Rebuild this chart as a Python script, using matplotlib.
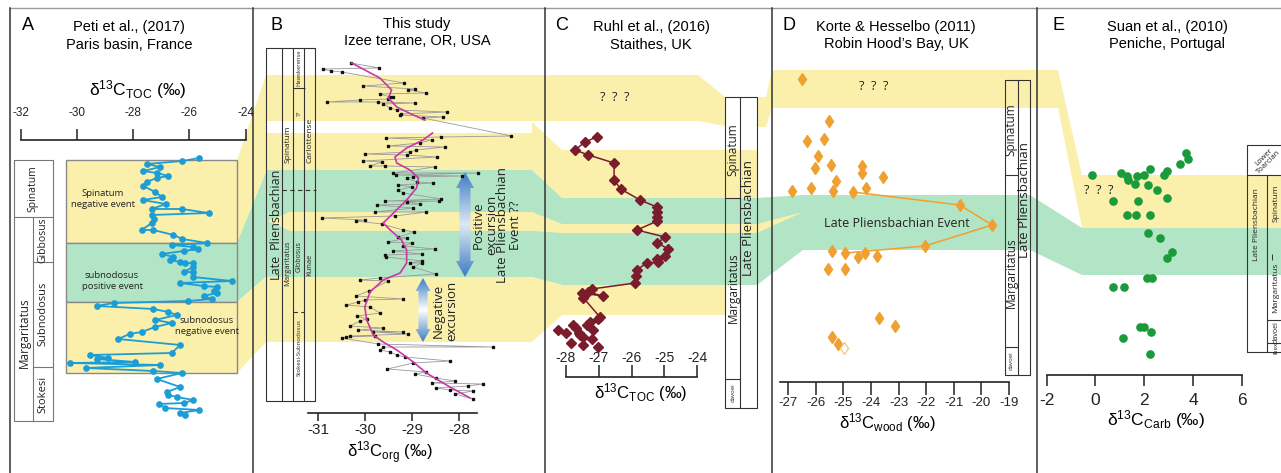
import numpy as np
import matplotlib.pyplot as plt
from matplotlib.patches import Polygon
from matplotlib.colors import LinearSegmentedColormap

plt.rcParams['axes.unicode_minus'] = False
plt.rcParams['font.family'] = ['Liberation Sans', 'DejaVu Sans']

W, H = 1281, 473
YEL = '#fbf0ab'
GRN = '#b2e5c5'
TITLE = 'Liberation Sans'
TICK = ['Liberation Sans', 'DejaVu Sans']
LAB = 'Open Sans'

# ---- A: Peti et al. (2017), d13C TOC vs level
a_val = [-25.65, -26.25, -27.52, -27.04, -27.64, -27.16, -26.75, -27.16, -27.52, -27.64, -27.22, -26.98,
         -27.66, -26.84, -27.34, -26.27, -25.32, -27.34, -27.25, -27.34, -27.70, -27.28, -26.57, -26.25,
         -25.38, -26.63, -25.86, -25.68, -26.21, -26.98, -26.57, -26.69, -26.33, -26.15, -25.86, -25.86,
         -26.21, -25.86, -25.88, -24.49, -26.33, -25.50, -25.02, -25.14, -25.02, -25.50, -25.20, -26.04,
         -28.70, -29.30, -27.28, -26.75, -26.45, -27.22, -26.63, -27.22, -27.70, -28.13, -28.53, -26.33,
         -26.63, -29.53, -28.88, -29.30, -27.93, -30.25, -27.04, -29.68, -27.28, -26.27, -27.16, -26.33,
         -26.81, -26.75, -26.45, -25.86, -26.21, -27.07, -26.87, -25.65, -26.33, -26.15]
a_lvl = [158, 161, 164, 167, 171, 173, 176, 178, 182, 186, 192, 197,
         200, 204, 209, 209, 213, 215, 219, 223, 230, 230, 235, 239,
         243, 245, 247, 249, 251, 254, 257, 260, 262, 263, 263, 267,
         272, 272, 277, 281, 283, 286, 287, 291, 293, 296, 299, 301,
         303, 306, 309, 312, 315, 320, 323, 327, 332, 334, 339, 345,
         353, 355, 358, 359, 362, 363, 365, 368, 371, 373, 379, 387,
         392, 395, 397, 400, 403, 404, 408, 410, 413, 415]
a_ticks = [-32, -30, -28, -26, -24]

# ---- B: this study, d13C org
b_val = [-30.31, -29.70, -30.91, -30.72, -30.50, -29.18, -30.04, -28.94, -29.09, -28.70, -29.69, -29.47,
         -29.40, -29.51, -30.11, -30.81, -29.72, -28.94, -29.62, -29.47, -29.33, -28.27, -29.23, -29.26,
         -28.34, -28.77, -26.89, -28.38, -29.55, -28.59, -28.84, -29.51, -28.30, -28.92, -29.05, -30.01,
         -29.12, -28.48, -30.04, -29.65, -29.90, -29.58, -28.52, -29.40, -27.60, -29.35, -27.95, -28.98,
         -29.12, -28.91, -28.55, -29.30, -29.01, -29.30, -29.19, -28.38, -29.59, -28.43, -29.12, -28.84,
         -29.76, -28.98, -29.79, -28.70, -29.37, -30.93, -30.01, -30.20, -29.65, -29.19, -28.96, -29.30,
         -29.12, -29.51, -29.01, -29.19, -28.52, -29.40, -28.80, -29.58, -29.55, -28.80, -29.05, -28.80,
         -28.98, -28.50, -29.69, -30.11, -29.51, -29.93, -30.20, -29.19, -30.00, -30.15, -30.40, -29.90,
         -29.69, -30.18, -29.97, -30.11, -30.33, -29.62, -30.15, -29.19, -29.83, -29.09, -30.33, -29.79,
         -30.40, -30.50, -29.72, -27.29, -29.62, -29.69, -29.47, -29.33, -29.16, -28.20, -28.98, -29.53,
         -28.70, -28.94, -28.50, -28.09, -28.59, -27.49, -27.81, -28.50, -28.20, -27.70, -28.09, -27.70]
b_lvl = [63, 68, 69, 71, 72, 83, 86, 89, 90, 93, 94, 97,
         97, 99, 100, 102, 102, 103, 104, 108, 110, 112, 114, 115,
         117, 118, 136, 137, 138, 140, 143, 146, 147, 150, 152, 154,
         155, 157, 161, 162, 166, 166, 167, 173, 173, 175, 176, 177,
         178, 182, 183, 185, 187, 190, 193, 199, 201, 201, 202, 204,
         205, 208, 212, 212, 216, 218, 220, 221, 224, 230, 232, 237,
         238, 242, 243, 246, 249, 251, 254, 255, 257, 261, 263, 263,
         267, 274, 278, 280, 281, 291, 296, 299, 300, 302, 305, 307,
         313, 316, 319, 321, 326, 328, 330, 332, 332, 334, 336, 336,
         337, 338, 344, 347, 347, 350, 352, 355, 357, 361, 363, 369,
         372, 374, 378, 381, 383, 384, 386, 388, 390, 391, 394, 399]
b_fit_val = [-30.29, -29.69, -29.44, -29.51, -29.33, -28.98, -28.73, np.nan,
             -28.57, -28.77, -29.12, -29.37, -29.33, -29.05, -28.87, -28.91, -29.12, -29.40, -29.62,
             -29.47, -29.23, -29.12, -29.12, -29.26, -29.62, -29.90, -30.01, -29.97, -29.83, -29.62,
             -29.33, -28.98, -28.70, -28.20, -27.77]
b_fit_lvl = [63, 78, 90, 98, 107, 115, 120, np.nan,
             133, 140, 148, 157, 163, 170, 178, 188, 200, 213, 223,
             230, 240, 250, 263, 273, 280, 292, 307, 320, 335, 342,
             350, 362, 373, 387, 398]
b_ticks = [-31, -30, -29, -28]

# ---- C: Ruhl et al. (2016), d13C TOC
c_val = [-27.06, -27.41, -27.72, -27.31, -26.53, -26.53, -26.33, -25.74, -25.23, -25.21, -25.23, -25.21,
         -25.84, -24.98, -25.21, -24.88, -24.98, -25.23, -25.18, -25.54, -25.84, -25.86, -25.89, -27.21,
         -27.31, -26.88, -27.51, -27.46, -26.96, -27.01]
c_lvl = [137, 142, 150, 155, 163, 180, 189, 200, 207, 212, 217, 221,
         230, 237, 243, 249, 256, 259, 262, 263, 270, 276, 283, 289,
         292, 296, 293, 298, 317, 319]
c_sc_val = [-27.26, -27.36, -27.77, -27.69, -28.22, -27.18, -27.99, -27.61, -27.56, -27.46, -27.21,
            -27.85, -27.46, -27.01]
c_sc_lvl = [322, 325, 325, 328, 330, 330, 333, 333, 335, 337, 339, 343, 345, 347]
c_ticks = [-28, -27, -26, -25, -24]

# ---- D: Korte & Hesselbo (2011), d13C wood
d_val = [-26.52, -25.52, -26.31, -25.70, -25.94, -26.03, -25.46, -24.31, -24.31, -23.56, -25.28, -26.16,
         -26.86, -25.37, -24.19, -24.67, -20.79, -19.61, -22.05, -24.93, -25.43, -24.49, -24.23, -23.80,
         -25.55, -24.93, -23.71, -23.12, -25.43, -25.19]
d_lvl = [79, 121, 141, 139, 156, 168, 165, 166, 173, 177, 181, 188,
         191, 191, 188, 192, 205, 225, 246, 253, 251, 257, 253, 256,
         269, 269, 318, 326, 337, 344]
d_evt_val = [-24.67, -20.79, -19.61, -22.05, -24.93]
d_evt_lvl = [192, 205, 225, 246, 253]
d_open_val = [-24.99]
d_open_lvl = [348]
d_ticks = [-27, -26, -25, -24, -23, -22, -21, -20, -19]

# ---- E: Suan et al. (2010), d13C carb
e_val = [3.70, 3.81, 3.47, 2.24, 2.95, 2.82, 1.04, 1.31, 1.72, 1.99, -0.13, 1.33,
         1.63, 2.17, 2.54, 2.92, 0.71, 1.76, 1.28, 1.67, 2.24, 2.17, 2.65, 3.16,
         2.92, 2.13, 2.34, 0.71, 1.17, 1.83, 1.99, 2.27, 1.15, 2.24]
e_lvl = [153, 159, 164, 169, 171, 175, 173, 176, 176, 175, 175, 180,
         184, 185, 190, 198, 201, 201, 215, 215, 215, 233, 238, 252,
         258, 278, 278, 287, 287, 327, 327, 332, 338, 354]
e_ticks = [-2, 0, 2, 4, 6]

fig = plt.figure(figsize=(W / 100, H / 100), dpi=100)
bg = fig.add_axes([0, 0, 1, 1])
bg.set_autoscale_on(False)
bg.set_xlim(0, W)
bg.set_ylim(H, 0)
bg.axis('off')


def poly(pts, fc, ec='none', lw=0, z=1):
    bg.add_patch(Polygon(pts, closed=True, fc=fc, ec=ec, lw=lw, zorder=z))


def band(xs, top, bot, fc, z=1):
    poly(list(zip(xs, top)) + list(zip(xs[::-1], bot[::-1])), fc, z=z)


# correlation bands
band([266, 698, 725], [75, 75, 97], [121, 121, 126], YEL)
band([757, 766, 772, 1058, 1082, 1281], [97, 97, 70, 70, 175, 175],
     [127, 127, 108, 108, 228, 228], YEL)
band([266, 532, 532, 562, 757], [133, 133, 122, 150, 150], [170, 170, 170, 198, 198], YEL)
band([266, 532, 562, 757, 803, 1030, 1082, 1281], [170, 170, 198, 198, 195, 195, 228, 228],
     [277, 277, 285, 285, 250, 250, 275, 275], GRN)
band([268, 290, 532, 562, 757, 803], [221, 212, 212, 224, 224, 212],
     [221, 231, 231, 233, 233, 212], YEL, z=1.1)
band([266, 532, 562, 725], [277, 277, 285, 285], [342, 342, 315, 315], YEL)
poly([(237, 160), (266, 75), (266, 172), (237, 243)], YEL)
poly([(237, 243), (266, 172), (266, 277), (237, 302)], GRN)
poly([(237, 302), (266, 277), (266, 342), (237, 373)], YEL)
# panel A event boxes
for y0, y1, fc in [(160, 243, YEL), (243, 302, GRN), (302, 373, YEL)]:
    poly([(66, y0), (237, y0), (237, y1), (66, y1)], fc, ec='#8a8a8a', lw=1, z=1.5)

# panel frames
bg.plot([10, W], [8, 8], color='#9a9a9a', lw=1, zorder=2)
for x in [10, 253, 545, 772, 1037]:
    bg.plot([x, x], [8, H], color='#333333', lw=1.1, zorder=2)

LC = '#333333'


def seg(xs, ys, ls='-', lw=0.8, c=LC):
    bg.plot(xs, ys, color=c, lw=lw, ls=ls, zorder=3, solid_capstyle='butt')


def box(x0, y0, x1, y1, lw=0.8, c=LC):
    seg([x0, x1, x1, x0, x0], [y0, y0, y1, y1, y0], lw=lw, c=c)


def vtext(x, y, s, size, family=LAB, rot=90, **kw):
    bg.text(x, y, s, rotation=rot, ha='center', va='center', fontsize=size, family=family,
            color='#222222', zorder=4, **kw)


# column A
box(14, 160, 53, 421, c='#777777')
seg([14, 53], [217, 217], c='#777777')
seg([33, 33], [217, 421], c='#777777')
seg([33, 53], [262, 262], c='#777777')
seg([33, 53], [367, 367], c='#777777')
vtext(33, 189, 'Spinatum', 7.5)
vtext(43, 240, 'Gibbosus', 7.5)
vtext(43, 314, 'Subnodosus', 8)
vtext(43, 394, 'Stokesi', 8)
vtext(24, 333, 'Margaritatus', 8.5)
vtext(103, 199, 'Spinatum\nnegative event', 6.8, rot=0, linespacing=1.25)
vtext(112, 281, 'subnodosus\npositive event', 6.8, rot=0, linespacing=1.25)
vtext(207, 326, 'subnodosus\nnegative event', 6.8, rot=0, linespacing=1.25)

# column B
box(266, 48, 315, 401)
for x in [282, 293, 304]:
    seg([x, x], [48, 401])
seg([293, 305], [88, 88])
seg([282, 316], [190, 190], ls=(0, (4, 3)))
seg([293, 304], [312, 312], ls=(0, (4, 3)))
vtext(299, 68, 'Hawskerense', 4.2)
vtext(299, 113, '??', 4.5)
vtext(288, 144, 'Spinatum', 6)
vtext(310, 140, 'Carlottense', 6)
vtext(288, 263, 'Margaritatus', 5.5)
vtext(299, 257, 'Gibbosus', 5)
vtext(310, 265, 'Kunae', 5.5)
vtext(299, 347, 'Stokesi-Subnodosus', 4.3)
vtext(275, 266, 'Late', 9)
vtext(275, 208, 'Pliensbachian', 9)

# column C
box(725, 97, 757, 408)
seg([740, 740], [97, 408])
seg([725, 740], [198, 198])
seg([725, 740], [379, 379])
vtext(733, 150, 'Spinatum', 8.5)
vtext(733, 288, 'Margaritatus', 8.5)
vtext(733, 393, 'davoei', 4.3)
vtext(748, 218, 'Late Pliensbachian', 9.5)

# column D
box(1005, 80, 1030, 375)
seg([1018, 1018], [80, 375])
seg([1005, 1018], [175, 175])
seg([1005, 1018], [347, 347])
vtext(1011, 130, 'Spinatum', 8.5)
vtext(1011, 273, 'Margaritatus', 8.5)
vtext(1011, 361, 'davoei', 4.3)
vtext(1024, 200, 'Late Pliensbachian', 9.5)

# column E
seg([1281, 1247, 1247, 1281], [145, 145, 352, 352])
seg([1247, 1281], [175, 175])
seg([1267, 1267], [175, 352])
seg([1267, 1281], [320, 320])
seg([1267, 1281], [343, 343])
seg([1272, 1272], [254, 260], lw=0.7)
vtext(1266, 160, 'Lower\nToarcian', 5.5, rot=45, linespacing=1.0)
vtext(1257, 225, 'Late Pliensbachian', 6)
vtext(1276, 203, 'Spinatum', 6)
vtext(1276, 288, 'Margaritatus', 6)
vtext(1276, 332, 'davoei', 5)
vtext(1276, 348, 'Ibex', 4.5)

# question marks and event label
for x, y in [(615, 97), (874, 87), (1099, 190)]:
    bg.text(x, y, '?  ?  ?', ha='center', va='center', fontsize=9, family=LAB, color='#222', zorder=4)
bg.text(897, 223, 'Late Pliensbachian Event', ha='center', va='center', fontsize=9, family=LAB,
        color='#222', zorder=4)


# gradient arrows in B
def grad_arrow(x, y0, y1, hw, sw, hl, mid):
    verts = [(x, y0), (x + hw, y0 + hl), (x + sw, y0 + hl), (x + sw, y1 - hl), (x + hw, y1 - hl),
             (x, y1), (x - hw, y1 - hl), (x - sw, y1 - hl), (x - sw, y0 + hl), (x - hw, y0 + hl)]
    p = Polygon(verts, closed=True, fc='none', ec='none', zorder=3)
    bg.add_patch(p)
    cmap = LinearSegmentedColormap.from_list('g', ['#3d7cc4', mid, '#3d7cc4'])
    grad = np.linspace(0, 1, 256)[:, None]
    im = bg.imshow(grad, extent=(x - hw, x + hw, y1, y0), cmap=cmap, aspect='auto', zorder=3)
    im.set_clip_path(p)


grad_arrow(465, 172, 277, 9, 5.5, 16, '#dde9f4')
grad_arrow(423, 278, 342, 7.5, 4.5, 13, '#ffffff')
vtext(485, 225, 'Positive\nexcursion', 9.5, linespacing=1.0)
vtext(509, 225, 'Late Pliensbachian\nEvent ??', 9.5, linespacing=1.0)
vtext(445, 311, 'Negative\nexcursion', 9.5, linespacing=1.0)

# titles
for x, s in [(28, 'A'), (277, 'B'), (562, 'C'), (789, 'D'), (1058, 'E')]:
    bg.text(x, 26, s, ha='center', va='center', fontsize=13, family=TITLE, zorder=4)
for x, y, s in [(129, 27, 'Peti et al., (2017)'), (129, 45, 'Paris basin, France'),
                (417, 24, 'This study'), (417, 41, 'Izee terrane, OR, USA'),
                (651, 27, 'Ruhl et al., (2016)'), (651, 45, 'Staithes, UK'),
                (896, 27, 'Korte & Hesselbo (2011)'), (896, 44, 'Robin Hood\u2019s Bay, UK'),
                (1167, 27, 'Suan et al., (2010)'), (1167, 44, 'Peniche, Portugal')]:
    bg.text(x, y, s, ha='center', va='center', fontsize=10.5, family=TITLE, zorder=4)

# axis labels
for x, y, sub, size in [(138, 90, 'TOC', 12.5), (390, 453, 'org', 12), (641, 393, 'TOC', 12),
                        (887, 423, 'wood', 12), (1156, 420, 'Carb', 12.5)]:
    lab = r'$\mathregular{\delta^{13}C_{%s}}$' % sub + ' (\u2030)'
    bg.text(x, y, lab, ha='center', va='center', fontsize=size, family=TICK, zorder=4)


def data_axes(x0, x1, v0, v1, side, ypos, ticks, tlen, pad, lsize):
    ax = fig.add_axes([x0 / W, 0, (x1 - x0) / W, (H - 8) / H])
    ax.set_xlim(v0, v1)
    ax.set_ylim(H, 8)
    ax.patch.set_alpha(0)
    for s in ax.spines.values():
        s.set_visible(False)
    sp = ax.spines[side]
    sp.set_visible(True)
    sp.set_position(('data', ypos))
    sp.set_linewidth(1.2)
    sp.set_color('#222222')
    ax.set_yticks([])
    ax.set_xticks(ticks)
    ax.set_xticklabels([str(t) for t in ticks], family=TICK)
    top = side == 'top'
    ax.tick_params(axis='x', direction='out', length=tlen, width=1.1, pad=pad, labelsize=lsize,
                   colors='#222222', top=top, bottom=not top, labeltop=top, labelbottom=not top)
    return ax


axA = data_axes(20.7, 245.7, -32, -24, 'top', 140, a_ticks, 8, 7, 8.5)
axA.plot(a_val, a_lvl, color='#1b9dd6', lw=1.3, marker='o', ms=3.8, clip_on=False)

axB = data_axes(308, 477, -31.219, -27.623, 'bottom', 413, b_ticks, 6, 1, 11)
axB.plot(b_val, b_lvl, color='#999999', lw=0.6, clip_on=False)
axB.plot(b_val, b_lvl, ls='none', marker='s', ms=1.6, color='#111111', clip_on=False)
axB.plot(b_fit_val, b_fit_lvl, color='#c838a8', lw=1.2, clip_on=False)

axC = data_axes(565.7, 697.3, -28, -24, 'top', 377, c_ticks, 9, 0, 10)
axC.plot(c_val, c_lvl, color='#7a1c2c', lw=1.1, marker='D', ms=5, clip_on=False)
axC.plot(c_sc_val, c_sc_lvl, ls='none', color='#7a1c2c', marker='D', ms=5, clip_on=False)

axD = data_axes(780, 1009, -27.30, -19, 'bottom', 382, d_ticks, 9, 1.5, 9.5)
axD.plot(d_evt_val, d_evt_lvl, color='#f0a030', lw=1.1, clip_on=False)
axD.plot(d_val, d_lvl, ls='none', color='#f0a030', marker='d', ms=6, clip_on=False)
axD.plot(d_open_val, d_open_lvl, ls='none', mfc='white', mec='#f5c888', marker='d', ms=6,
         clip_on=False)

axE = data_axes(1046.7, 1241.7, -2, 6, 'bottom', 375, e_ticks, 8, 5, 12.5)
axE.plot(e_val, e_lvl, ls='none', color='#1a9a3a', marker='o', ms=5.2, clip_on=False)

fig.savefig('out.png', dpi=100)
